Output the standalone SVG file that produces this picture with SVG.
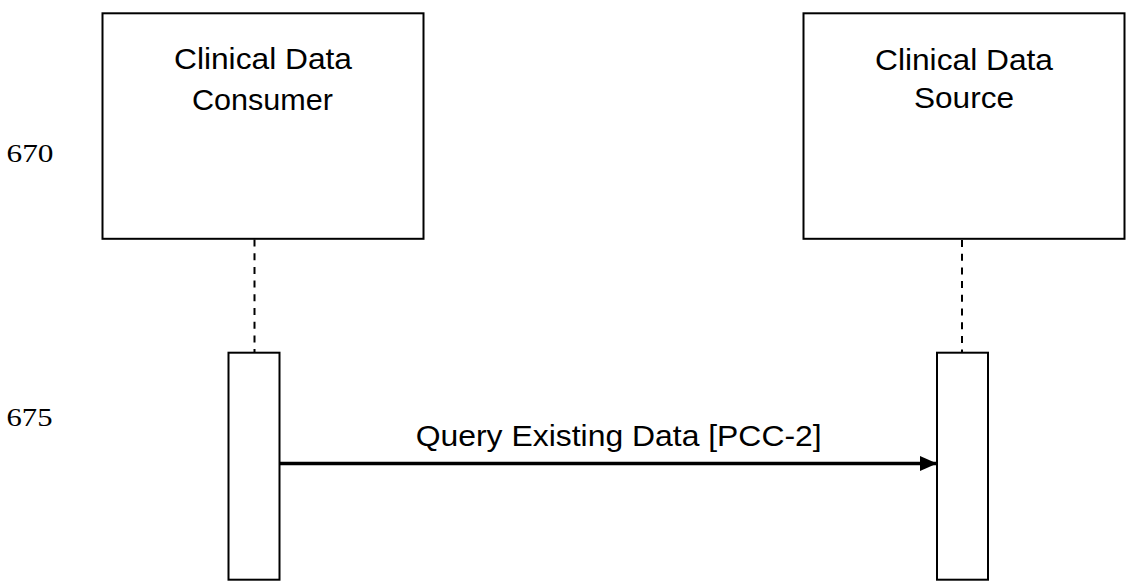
<svg xmlns="http://www.w3.org/2000/svg" width="1127" height="582" viewBox="0 0 1127 582">
<style>
.box{fill:#fff;stroke:#000;stroke-width:2}
.life{stroke:#000;stroke-width:2;stroke-dasharray:7 6.7;fill:none}
.t{font-family:"Liberation Sans",Arial,sans-serif;font-size:29px;fill:#000}
.n{font-family:"Liberation Serif","Times New Roman",serif;font-size:25px;fill:#000}
.msg{stroke:#000;stroke-width:3.5;fill:none}
</style>
<defs>
<marker id="ah" markerUnits="userSpaceOnUse" markerWidth="17" markerHeight="15" refX="17" refY="7.5" orient="auto">
<path d="M0,0 L17,7.5 L0,15 Z" fill="#000"/>
</marker>
</defs>
<rect width="1127" height="582" fill="#fff"/>
<text class="n" x="6.5" y="161.7" textLength="47" lengthAdjust="spacingAndGlyphs">670</text>
<text class="n" x="6.5" y="426" textLength="46" lengthAdjust="spacingAndGlyphs">675</text>
<g id="connectors">
<line class="life" x1="254.5" y1="239.5" x2="254.5" y2="352"/>
<line class="life" x1="962" y1="240" x2="962" y2="352"/>
<line class="msg" x1="280" y1="463.5" x2="937" y2="463.5" marker-end="url(#ah)"/>
</g>
<g id="consumer">
<rect class="box" x="102.5" y="13.3" width="321" height="225.5"/>
<text class="t" x="263" y="69" text-anchor="middle" textLength="178" lengthAdjust="spacingAndGlyphs">Clinical Data</text>
<text class="t" x="262.5" y="110" text-anchor="middle" textLength="141" lengthAdjust="spacingAndGlyphs">Consumer</text>
</g>
<g id="source">
<rect class="box" x="803.5" y="13.3" width="321" height="225.5"/>
<text class="t" x="964" y="70" text-anchor="middle" textLength="178" lengthAdjust="spacingAndGlyphs">Clinical Data</text>
<text class="t" x="964" y="108" text-anchor="middle" textLength="100" lengthAdjust="spacingAndGlyphs">Source</text>
</g>
<g id="consumer-activation">
<rect class="box" x="228.5" y="352.7" width="51" height="227"/>
</g>
<g id="source-activation">
<rect class="box" x="937" y="352.7" width="51" height="227"/>
</g>
<g id="message-label">
<text class="t" x="618.7" y="446" text-anchor="middle" textLength="406" lengthAdjust="spacingAndGlyphs">Query Existing Data [PCC-2]</text>
</g>
</svg>
